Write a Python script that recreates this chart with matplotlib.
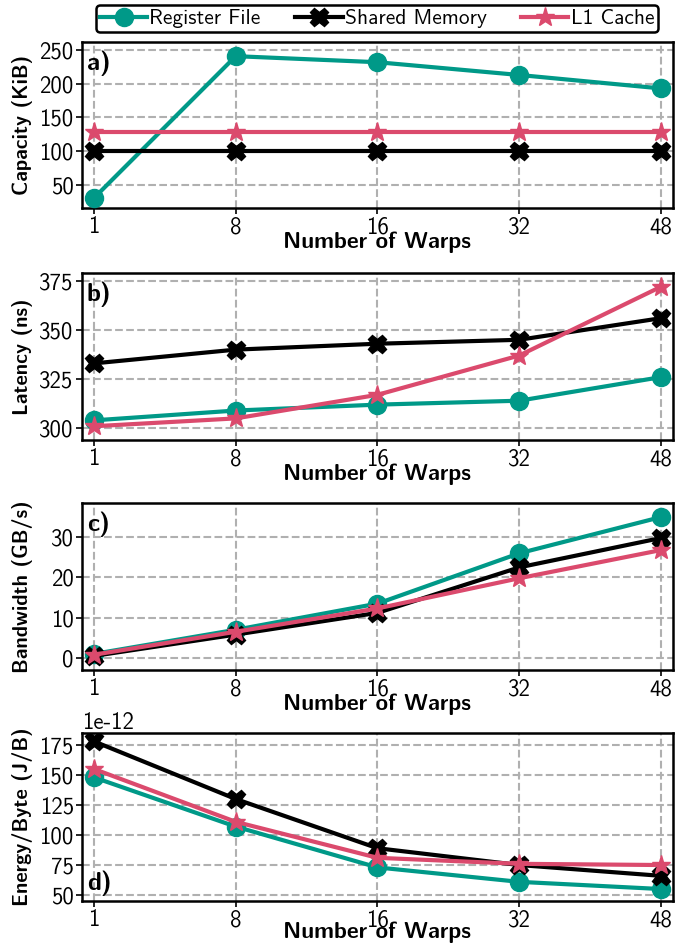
import numpy as np
import matplotlib
matplotlib.use("Agg")
import matplotlib.pyplot as plt
from matplotlib import font_manager as fm

names = set(f.name for f in fm.fontManager.ttflist)


def pick(*cands):
    for c in cands:
        if c in names:
            return c
    return "DejaVu Sans"


base = pick("Latin Modern Sans", "Roboto Condensed")
plt.rcParams['font.family'] = [base, 'DejaVu Sans']
plt.rcParams['axes.unicode_minus'] = False

warps = ["1", "8", "16", "32", "48"]
series = ["Register File", "Shared Memory", "L1 Cache"]

cap_rf = [30, 241, 232, 213, 193]
cap_sm = [100, 100, 100, 100, 100]
cap_l1 = [128, 128, 128, 128, 128]

lat_rf = [304, 309, 312, 314, 326]
lat_sm = [333, 340, 343, 345, 356]
lat_l1 = [301, 305, 317, 337, 372]

bw_rf = [1.0, 7.0, 13.5, 26.0, 35.0]
bw_sm = [0.5, 5.8, 11.2, 22.5, 29.8]
bw_l1 = [0.8, 6.5, 12.3, 19.8, 26.8]

en_rf = [148e-12, 107e-12, 73e-12, 61e-12, 55e-12]
en_sm = [178e-12, 130e-12, 89e-12, 75e-12, 66e-12]
en_l1 = [155e-12, 111e-12, 81e-12, 76e-12, 75e-12]

colors = ["#009988", "black", "#DB4A6D"]
markers = ["o", "X", "*"]
msizes = [13, 13, 14]

panels = [
    ("Capacity (KiB)", [cap_rf, cap_sm, cap_l1], (15, 262), [50, 100, 150, 200, 250], "a)", "top"),
    ("Latency (ns)", [lat_rf, lat_sm, lat_l1], (294, 379), [300, 325, 350, 375], "b)", "top"),
    ("Bandwidth (GB/s)", [bw_rf, bw_sm, bw_l1], (-3, 38.5), [0, 10, 20, 30], "c)", "top"),
    ("Energy/Byte (J/B)", [en_rf, en_sm, en_l1], (45e-12, 185e-12),
     [50e-12, 75e-12, 100e-12, 125e-12, 150e-12, 175e-12], "d)", "bottom"),
]

# axes boxes in figure fraction (left, bottom, width, height)
rects = [
    [0.1183, 0.7794, 0.8528, 0.1760],
    [0.1183, 0.5334, 0.8528, 0.1771],
    [0.1183, 0.2895, 0.8528, 0.1771],
    [0.1183, 0.0445, 0.8528, 0.1782],
]

fig = plt.figure(figsize=(6.93, 9.43), dpi=100)
x = np.arange(len(warps))
handles = []
for (ylab, data, ylim, yt, tag, pos), r in zip(panels, rects):
    ax = fig.add_axes(r)
    for i, d in enumerate(data):
        h, = ax.plot(x, d, color=colors[i], marker=markers[i], markersize=msizes[i],
                     linewidth=3, label=series[i], zorder=3)
        if len(handles) < 3:
            handles.append(h)
    ax.set_xlim(-0.085, 4.085)
    ax.set_ylim(*ylim)
    ax.set_yticks(yt)
    ax.set_xticks(x)
    ax.set_xticklabels(warps)
    ax.grid(True, linestyle="--", color="#b0b0b0", linewidth=1.5)
    ax.set_axisbelow(True)
    ax.tick_params(labelsize=16.5, width=1.2, length=4, pad=2)
    for s in ax.spines.values():
        s.set_linewidth(1.8)
    ax.set_xlabel("Number of Warps", fontsize=16.5, fontweight="bold",
                  labelpad=-7 if pos == "bottom" else -5)
    ax.set_ylabel(ylab, fontsize=14.5, fontweight="bold")
    ax.yaxis.set_label_coords(-0.083, 0.5)
    if tag == "d)":
        ax.ticklabel_format(axis="y", style="sci", scilimits=(-12, -12))
    ax.yaxis.get_offset_text().set_fontsize(16.5)
    if pos == "top":
        ax.text(0.008, 0.95, tag, transform=ax.transAxes, fontsize=18, fontweight="bold", va="top")
    else:
        ax.text(0.008, 0.03, tag, transform=ax.transAxes, fontsize=18, fontweight="bold", va="bottom")

leg = fig.legend(handles, series, loc="upper center", bbox_to_anchor=(0.544, 0.995), ncol=3,
                 fontsize=15.5, frameon=True, fancybox=True, edgecolor="black", framealpha=1,
                 handlelength=2.2, handletextpad=0.1, columnspacing=1.6, borderpad=0.2,
                 borderaxespad=0)
leg.get_frame().set_linewidth(1.8)

fig.savefig("out.png", dpi=100)
